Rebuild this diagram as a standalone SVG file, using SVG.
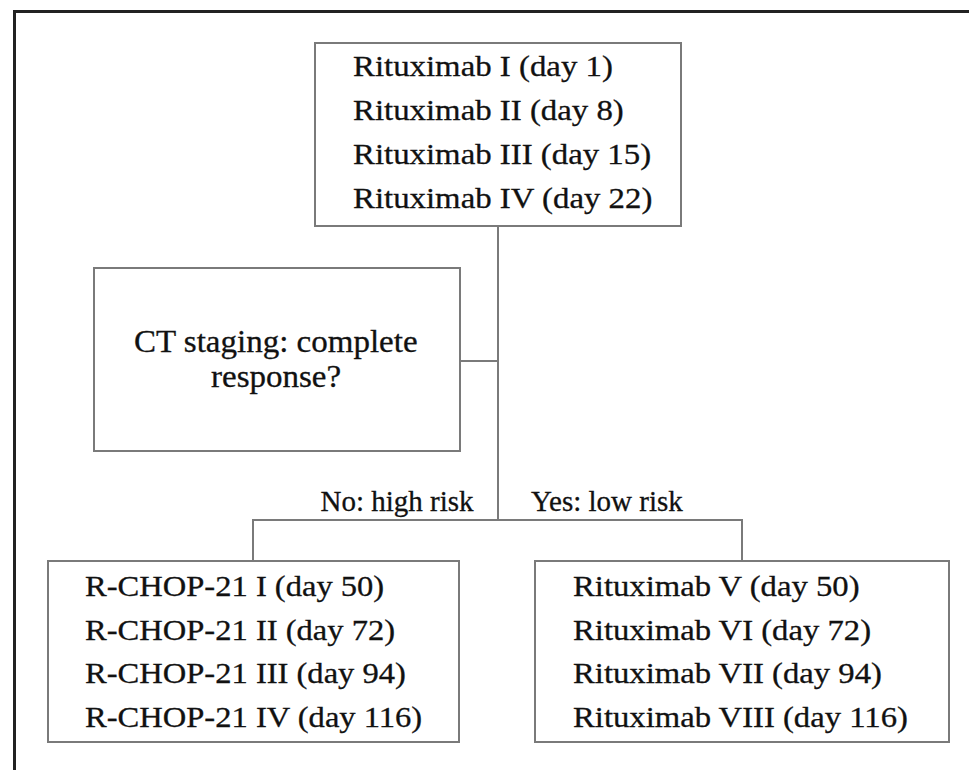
<svg xmlns="http://www.w3.org/2000/svg" width="969" height="770" viewBox="0 0 969 770">
<style>
.box{fill:#fff;stroke:#7a7a7a;stroke-width:2}
.t{font-family:"Liberation Serif","Times New Roman",serif;font-size:30px;fill:#111;stroke:#111;stroke-width:0.3}
.ct{font-family:"Liberation Serif","Times New Roman",serif;font-size:31px;fill:#111;stroke:#111;stroke-width:0.3}
.lbl{font-family:"Liberation Serif","Times New Roman",serif;font-size:29px;fill:#111;stroke:#111;stroke-width:0.3}
.c{fill:none;stroke:#7a7a7a;stroke-width:2}
.frame{fill:none;stroke:#222;stroke-width:3}
</style>
<rect x="0" y="0" width="969" height="770" fill="#fff"/>
<path class="frame" d="M14.5,770 V11.5 H969"/>
<g id="connectors">
<path class="c" d="M498,226 V520"/>
<path class="c" d="M460,361 H498"/>
<path class="c" d="M253,561 V520 H742 V561"/>
<text class="lbl" x="320.5" y="511">No: high risk</text>
<text class="lbl" x="531" y="511">Yes: low risk</text>
</g>
<g id="top">
<rect class="box" x="315" y="43" width="366" height="183"/>
<text class="t" transform="translate(353,76) scale(1.095,1)">Rituximab I (day 1)</text>
<text class="t" transform="translate(353,119.5) scale(1.095,1)">Rituximab II (day 8)</text>
<text class="t" transform="translate(353,164) scale(1.095,1)">Rituximab III (day 15)</text>
<text class="t" transform="translate(353,207.5) scale(1.095,1)">Rituximab IV (day 22)</text>
</g>
<g id="ct">
<rect class="box" x="94" y="268" width="366" height="183"/>
<text class="ct" transform="translate(134,352) scale(1.065,1)">CT staging: complete</text>
<text class="ct" transform="translate(211,387) scale(1.065,1)">response?</text>
</g>
<g id="rchop">
<rect class="box" x="48" y="561" width="411" height="181"/>
<text class="t" transform="translate(85,596) scale(1.085,1)">R-CHOP-21 I (day 50)</text>
<text class="t" transform="translate(85,640) scale(1.085,1)">R-CHOP-21 II (day 72)</text>
<text class="t" transform="translate(85,683) scale(1.085,1)">R-CHOP-21 III (day 94)</text>
<text class="t" transform="translate(85,726.5) scale(1.085,1)">R-CHOP-21 IV (day 116)</text>
</g>
<g id="ritux2">
<rect class="box" x="535" y="561" width="414" height="181"/>
<text class="t" transform="translate(573,596) scale(1.09,1)">Rituximab V (day 50)</text>
<text class="t" transform="translate(573,640) scale(1.09,1)">Rituximab VI (day 72)</text>
<text class="t" transform="translate(573,683) scale(1.09,1)">Rituximab VII (day 94)</text>
<text class="t" transform="translate(573,726.5) scale(1.09,1)">Rituximab VIII (day 116)</text>
</g>
</svg>
